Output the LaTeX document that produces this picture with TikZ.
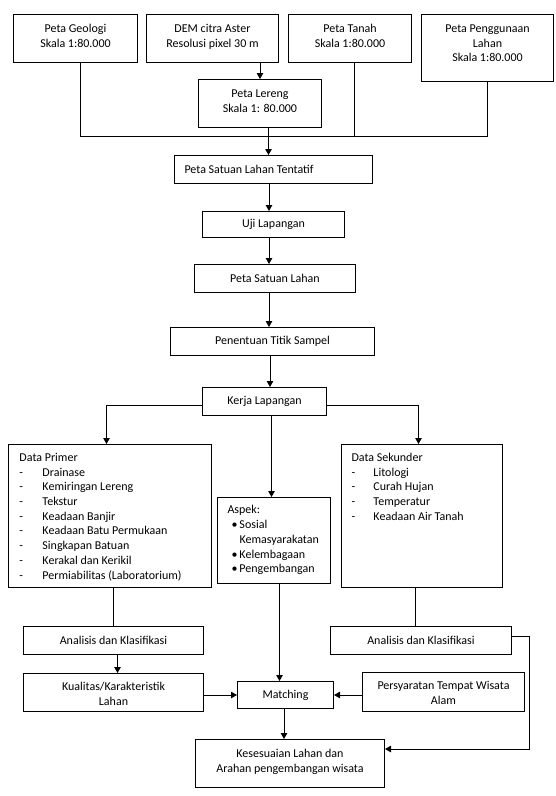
\documentclass[tikz,border=0pt]{standalone}
\usepackage{fontspec}
\setmainfont{Carlito}
\usetikzlibrary{arrows.meta,calc}
\newcommand\tb[4]{\parbox[c][#2][t]{#1}{\centering\vspace*{#3}\strut #4\par}}
\newcommand\lb[5]{\parbox[c][#2][t]{#1}{\raggedright\leftskip=#4\relax\vspace*{#3}\strut #5\par}}
\newcommand\dl[2]{\makebox[#1][l]{-}#2}
\newcommand\bl[1]{\hspace*{4pt}\makebox[8pt][l]{\textbullet}#1}
\tikzset{
  box/.style={draw, line width=1pt, inner sep=0pt, anchor=north west},
  arr/.style={line width=1pt, -{Triangle[length=6pt,width=6.5pt]}},
  ln/.style={line width=1pt}
}
\begin{document}
\begin{tikzpicture}[x=1pt,y=-1pt,font=\fontsize{12}{14.7}\selectfont]
\useasboundingbox[fill=white] (0,0) rectangle (555,796);
% top row
\node[box, minimum width=124pt, minimum height=48pt] (geo) at (13,14) {\tb{124pt}{48pt}{7.7pt}{Peta Geologi\\Skala 1:80.000}};
\node[box, minimum width=132pt, minimum height=48pt] (dem) at (146,14) {\tb{132pt}{48pt}{7.7pt}{DEM citra Aster\\Resolusi pixel 30 m}};
\node[box, minimum width=123pt, minimum height=48pt] (tanah) at (288,14) {\tb{123pt}{48pt}{7.7pt}{Peta Tanah\\Skala 1:80.000}};
\node[box, minimum width=132pt, minimum height=67pt] (guna) at (421,14) {\tb{132pt}{67pt}{7.7pt}{Peta Penggunaan\\Lahan\\Skala 1:80.000}};
\node[box, minimum width=123pt, minimum height=48pt] (lereng) at (198,79) {\tb{123pt}{48pt}{7.7pt}{Peta Lereng\\Skala 1: 80.000}};
% chain
\node[box, minimum width=198pt, minimum height=28pt] (tent) at (174,155) {\parbox{198pt}{\hspace*{10pt}Peta Satuan Lahan Tentatif}};
\node[box, minimum width=142pt, minimum height=26pt] (uji) at (202,211) {Uji Lapangan};
\node[box, minimum width=161pt, minimum height=28pt] (psl) at (194,264) {Peta Satuan Lahan};
\node[box, minimum width=204pt, minimum height=28pt] (titik) at (170,327) {Penentuan Titik Sampel};
\node[box, minimum width=124pt, minimum height=28pt] (kerja) at (202,387) {Kerja Lapangan};
% data boxes
\node[box, minimum width=203pt, minimum height=143pt] (primer) at (8,444) {\lb{203pt}{143pt}{6.7pt}{11pt}{Data Primer\\
\dl{23pt}{Drainase}\\
\dl{23pt}{Kemiringan Lereng}\\
\dl{23pt}{Tekstur}\\
\dl{23pt}{Keadaan Banjir}\\
\dl{23pt}{Keadaan Batu Permukaan}\\
\dl{23pt}{Singkapan Batuan}\\
\dl{23pt}{Kerakal dan Kerikil}\\
\dl{23pt}{Permiabilitas (Laboratorium)}}};
\node[box, minimum width=113pt, minimum height=86pt] (aspek) at (217,497) {\lb{113pt}{86pt}{6.2pt}{10pt}{Aspek:\\
\bl{Sosial}\\
\hspace*{12pt}Kemasyarakatan\\
\bl{Kelembagaan}\\
\bl{Pengembangan}}};
\node[box, minimum width=161pt, minimum height=143pt] (sekunder) at (341,444) {\lb{161pt}{143pt}{6.7pt}{10pt}{Data Sekunder\\
\dl{22pt}{Litologi}\\
\dl{22pt}{Curah Hujan}\\
\dl{22pt}{Temperatur}\\
\dl{22pt}{Keadaan Air Tanah}}};
% bottom
\node[box, minimum width=180pt, minimum height=28pt] (anL) at (23,626) {Analisis dan Klasifikasi};
\node[box, minimum width=181pt, minimum height=28pt] (anR) at (330,626) {Analisis dan Klasifikasi};
\node[box, minimum width=180pt, minimum height=38pt] (kual) at (23,673) {\tb{180pt}{38pt}{6.7pt}{Kualitas/Karakteristik\\Lahan}};
\node[box, minimum width=96pt, minimum height=27pt] (match) at (237,681) {Matching};
\node[box, minimum width=162pt, minimum height=39pt] (syarat) at (362,672) {\tb{162pt}{39pt}{6.7pt}{Persyaratan Tempat Wisata\\Alam}};
\node[box, minimum width=189pt, minimum height=48pt] (sesuai) at (195,739) {\tb{189pt}{48pt}{7.7pt}{Kesesuaian Lahan dan\\Arahan pengembangan wisata}};
% connectors top
\coordinate (busT) at (0,136);
\draw[ln] ([xshift=5pt]geo.south) |- (guna.south |- busT) -- (guna.south);
\draw[ln] ([xshift=4.5pt]tanah.south) -- ([xshift=4.5pt]tanah.south |- busT);
\draw[arr] (dem.south -| lereng.north) -- (lereng.north);
\draw[arr] ([xshift=8.5pt]lereng.south) -- ([xshift=8.5pt]lereng.south |- tent.north);
\coordinate (sp) at (269,0);
\draw[arr] (tent.south -| sp) -- (uji.north -| sp);
\draw[arr] (uji.south -| sp) -- (psl.north -| sp);
\draw[arr] (psl.south -| sp) -- (titik.north -| sp);
\draw[arr] ([xshift=1pt]titik.south -| sp) -- ([xshift=1pt]kerja.north -| sp);
\coordinate (busK) at (0,405);
\draw[arr] (kerja.west |- busK) -| ([xshift=-3.5pt]primer.north);
\draw[arr] (kerja.east |- busK) -| ([xshift=-3.5pt]sekunder.north);
\draw[arr] ([xshift=7pt]kerja.south) -- ([xshift=7pt]kerja.south |- aspek.north);
% connectors bottom
\draw[ln] (anL.north |- primer.south) -- (anL.north);
\draw[arr] ([xshift=4pt]anL.south) -- ([xshift=4pt]kual.north);
\draw[ln] ([xshift=-5.5pt]anR.north |- sekunder.south) -- ([xshift=-5.5pt]anR.north);
\draw[arr] ([xshift=5.5pt]aspek.south) -- ([xshift=5.5pt]aspek.south |- match.north);
\draw[arr] (match.west -| kual.east) -- (match.west);
\draw[arr] (match.east -| syarat.west) -- (match.east);
\draw[arr] ([xshift=-1.5pt]match.south) -- ([xshift=-1.5pt]match.south |- sesuai.north);
\coordinate (rc) at (529,749);
\draw[arr] ([yshift=4pt]anR.east) -| (rc) -- (rc -| sesuai.east);
\end{tikzpicture}
\end{document}
